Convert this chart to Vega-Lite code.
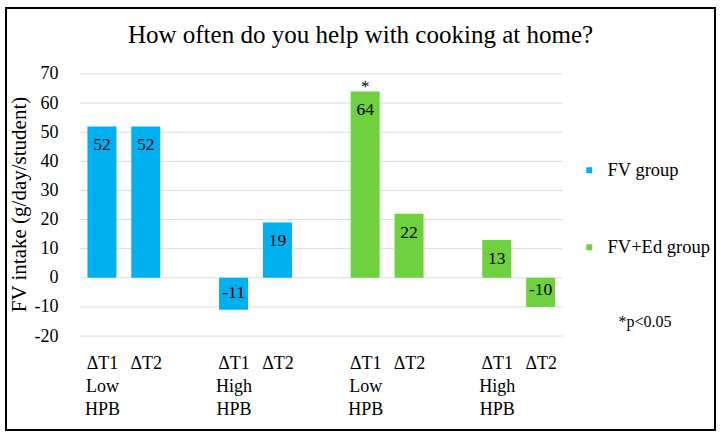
{
  "$schema": "https://vega.github.io/schema/vega-lite/v6.json",
  "width": 709,
  "height": 422,
  "autosize": {"type": "none"},
  "padding": {"left": 6, "top": 8, "right": 6, "bottom": 6},
  "background": "white",
  "config": {
    "font": "Liberation Serif",
    "view": {"stroke": "black", "strokeWidth": 2}
  },
  "title": {
    "text": "How often do you help with cooking at home?",
    "fontSize": 25,
    "fontWeight": "normal",
    "font": "Liberation Serif",
    "color": "black",
    "anchor": "middle",
    "frame": "group",
    "baseline": "middle",
    "offset": -29,
    "dy": 23
  },
  "datasets": {
    "bars": [
      {"slot": 0, "value": 52, "group": "FV group", "sig": ""},
      {"slot": 1, "value": 52, "group": "FV group", "sig": ""},
      {"slot": 3, "value": -11, "group": "FV group", "sig": ""},
      {"slot": 4, "value": 19, "group": "FV group", "sig": ""},
      {"slot": 6, "value": 64, "group": "FV+Ed group", "sig": "*"},
      {"slot": 7, "value": 22, "group": "FV+Ed group", "sig": ""},
      {"slot": 9, "value": 13, "group": "FV+Ed group", "sig": ""},
      {"slot": 10, "value": -10, "group": "FV+Ed group", "sig": ""}
    ],
    "ticks": [
      {"tick": -20}, {"tick": -10}, {"tick": 0}, {"tick": 10}, {"tick": 20},
      {"tick": 30}, {"tick": 40}, {"tick": 50}, {"tick": 60}, {"tick": 70}
    ]
  },
  "layer": [
    {
      "data": {"name": "ticks"},
      "mark": {"type": "rule", "color": "#d9dce2", "strokeWidth": 1},
      "encoding": {
        "y": {"field": "tick", "type": "quantitative"},
        "x": {"datum": -0.5, "type": "quantitative"},
        "x2": {"datum": 10.5}
      }
    },
    {
      "data": {"name": "bars"},
      "mark": {"type": "bar", "size": 29},
      "encoding": {
        "x": {
          "field": "slot",
          "type": "quantitative",
          "scale": {"domain": [-2.073, 13.86], "nice": false, "zero": false},
          "axis": {
            "title": null,
            "values": [0, 1, 3, 4, 6, 7, 9, 10],
            "labelExpr": "indexof([1,4,7,10], datum.value) >= 0 ? 'ΔT2' : ((datum.value == 0 || datum.value == 6) ? ['ΔT1','Low','HPB'] : ['ΔT1','High','HPB'])",
            "domain": false,
            "ticks": false,
            "grid": false,
            "offset": -78,
            "labelPadding": 2,
            "labelFont": "Liberation Serif",
            "labelFontSize": 18,
            "labelColor": "black",
            "labelBaseline": "top",
            "labelAlign": "center",
            "labelLineHeight": 23,
            "labelFlush": false,
            "labelOverlap": false,
            "labelBound": false
          }
        },
        "y": {
          "field": "value",
          "type": "quantitative",
          "scale": {"domain": [-52.26, 92.65], "nice": false, "zero": false},
          "axis": {
            "title": "FV intake (g/day/student)",
            "values": [-20, -10, 0, 10, 20, 30, 40, 50, 60, 70],
            "labelExpr": "'' + datum.value",
            "domain": false,
            "ticks": false,
            "grid": false,
            "offset": -55,
            "labelPadding": 3,
            "labelFont": "Liberation Serif",
            "labelFontSize": 18,
            "labelColor": "black",
            "titleFont": "Liberation Serif",
            "titleFontSize": 21,
            "titleFontWeight": "normal",
            "titleColor": "black",
            "titleX": -42,
            "titleY": 196,
            "titleAngle": -90,
            "titleAlign": "center",
            "titleBaseline": "middle"
          }
        },
        "y2": {"datum": 0},
        "color": {
          "field": "group",
          "type": "nominal",
          "scale": {"domain": ["FV group", "FV+Ed group"], "range": ["#00B0F0", "#6FD040"]},
          "legend": {
            "title": "*p<0.05",
            "titleOrient": "bottom",
            "titleAnchor": "middle",
            "titleFont": "Liberation Serif",
            "titleFontSize": 16,
            "titleFontWeight": "normal",
            "titleColor": "black",
            "titlePadding": 57,
            "orient": "none",
            "legendX": 574,
            "legendY": 153,
            "symbolType": "square",
            "symbolSize": 36,
            "symbolStrokeWidth": 0,
            "labelFont": "Liberation Serif",
            "labelFontSize": 18.5,
            "labelFontWeight": "normal",
            "labelColor": "black",
            "labelOffset": 9,
            "rowPadding": 58,
            "padding": 0
          }
        }
      }
    },
    {
      "data": {"name": "bars"},
      "transform": [{"filter": "datum.value > 0"}],
      "mark": {"type": "text", "baseline": "middle", "dy": 19, "fontSize": 17.5, "color": "black", "font": "Liberation Serif"},
      "encoding": {
        "x": {"field": "slot", "type": "quantitative"},
        "y": {"field": "value", "type": "quantitative"},
        "text": {"field": "value", "type": "nominal"}
      }
    },
    {
      "data": {"name": "bars"},
      "transform": [{"filter": "datum.value < 0"}],
      "mark": {"type": "text", "baseline": "middle", "dy": -17, "fontSize": 17.5, "color": "black", "font": "Liberation Serif"},
      "encoding": {
        "x": {"field": "slot", "type": "quantitative"},
        "y": {"field": "value", "type": "quantitative"},
        "text": {"field": "value", "type": "nominal"}
      }
    },
    {
      "data": {"name": "bars"},
      "transform": [{"filter": "datum.sig != ''"}],
      "mark": {"type": "text", "baseline": "alphabetic", "dy": 1, "fontSize": 17, "color": "black", "font": "Liberation Serif"},
      "encoding": {
        "x": {"field": "slot", "type": "quantitative"},
        "y": {"field": "value", "type": "quantitative"},
        "text": {"field": "sig", "type": "nominal"}
      }
    }
  ]
}
